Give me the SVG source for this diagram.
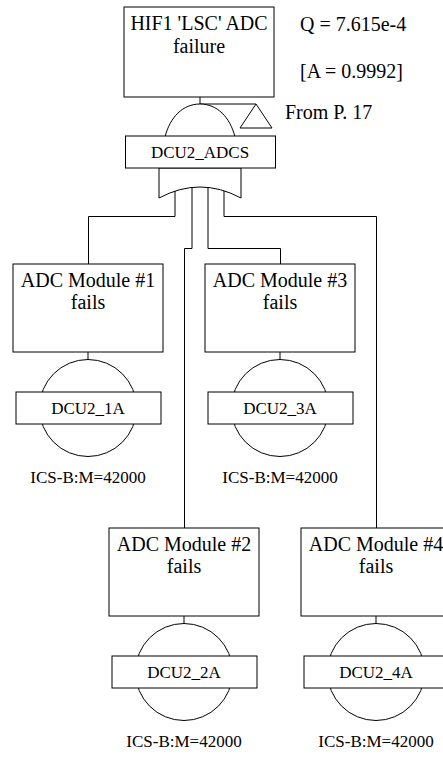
<svg xmlns="http://www.w3.org/2000/svg" width="443" height="757" viewBox="0 0 443 757">
<style>
.ln{fill:none;stroke:#000;stroke-width:1}
.sh{fill:#fff;stroke:#000;stroke-width:1}
.t{font-family:"Liberation Serif","Times New Roman",serif;font-size:20px;fill:#000}
.s{font-family:"Liberation Serif","Times New Roman",serif;font-size:17px;fill:#000}
.m{text-anchor:middle}
</style>
<defs>
<g id="basic">
<rect class="sh" x="0" y="0" width="150" height="88"/>
<line class="ln" x1="75" y1="88" x2="75" y2="96"/>
<circle class="sh" cx="75" cy="144" r="48.5"/>
<rect class="sh" x="3" y="128" width="145" height="32"/>
</g>
</defs>
<rect width="443" height="757" fill="#fff"/>
<g id="connectors">
<path class="ln" d="M175,185 V216.5 H88.5 V264"/>
<path class="ln" d="M192,185 V248.5 H184.5 V528"/>
<path class="ln" d="M208,185 V248.5 H280.5 V264"/>
<path class="ln" d="M224,185 V216.5 H376.5 V528"/>
<path class="ln" d="M200,97 V104 H256"/>
</g>
<g id="top">
<rect class="sh" x="124" y="7" width="150" height="90"/>
<text class="t m" x="199" y="30">HIF1 'LSC' ADC</text>
<text class="t m" x="199" y="53">failure</text>
<text class="t" x="300" y="31">Q = 7.615e-4</text>
<text class="t" x="300" y="78">[A = 0.9992]</text>
</g>
<g id="transfer">
<path class="sh" d="M256,104 L240,128 L272,128 Z"/>
<text class="t" x="285" y="119">From P. 17</text>
</g>
<g id="gate-and">
<path class="sh" d="M165,137 C170,117 183,104 200,104 C217,104 230,117 235,137 Z"/>
</g>
<g id="gate-or">
<path class="sh" d="M159,168 L159,198 Q200,176 241,198 L241,168 Z"/>
</g>
<g id="DCU2_ADCS">
<rect class="sh" x="125.5" y="136" width="150" height="32"/>
<text class="s m" x="200" y="158">DCU2_ADCS</text>
</g>
<g id="module1">
<use href="#basic" x="13" y="264"/>
<text class="t m" x="88" y="287">ADC Module #1</text>
<text class="t m" x="88" y="309">fails</text>
<text class="s m" x="88" y="414">DCU2_1A</text>
<text class="s m" x="88" y="483">ICS-B:M=42000</text>
</g>
<g id="module3">
<use href="#basic" x="205" y="264"/>
<text class="t m" x="280" y="287">ADC Module #3</text>
<text class="t m" x="280" y="309">fails</text>
<text class="s m" x="280" y="414">DCU2_3A</text>
<text class="s m" x="280" y="483">ICS-B:M=42000</text>
</g>
<g id="module2">
<use href="#basic" x="109" y="528"/>
<text class="t m" x="184" y="551">ADC Module #2</text>
<text class="t m" x="184" y="573">fails</text>
<text class="s m" x="184" y="678">DCU2_2A</text>
<text class="s m" x="184" y="747">ICS-B:M=42000</text>
</g>
<g id="module4">
<use href="#basic" x="301" y="528"/>
<text class="t m" x="376" y="551">ADC Module #4</text>
<text class="t m" x="376" y="573">fails</text>
<text class="s m" x="376" y="678">DCU2_4A</text>
<text class="s m" x="376" y="747">ICS-B:M=42000</text>
</g>
</svg>
